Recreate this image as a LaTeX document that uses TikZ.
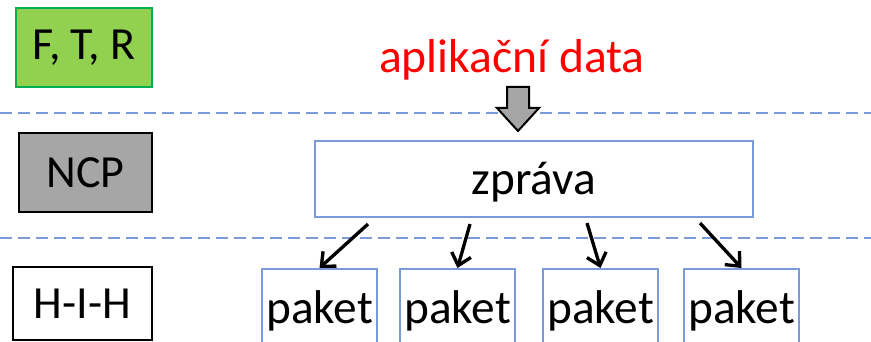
\documentclass[tikz,border=0pt]{standalone}
\usepackage{fontspec}
\setmainfont{Carlito}
\usepackage{tikz}
\usetikzlibrary{arrows.meta, calc}
\usepackage{xcolor}

\definecolor{sepblue}{RGB}{122,154,216}
\definecolor{ftrgreen}{RGB}{146,208,80}
\definecolor{ftrline}{RGB}{0,176,80}
\definecolor{ncpgray}{RGB}{166,166,166}

\tikzset{
  layerbox/.style={draw=black, line width=1.7pt, inner sep=0pt, font=\fontsize{34.5}{40}\selectfont},
  sepline/.style={draw=sepblue, line width=1.5pt, dash pattern=on 9pt off 4.5pt},
  msgbox/.style={draw=sepblue, line width=1.6pt, inner sep=0pt, text height=30pt, text depth=6pt,
    font=\fontsize{35.5}{40}\selectfont},
  pktbox/.style={draw=sepblue, line width=1.6pt, inner sep=0pt, anchor=north, minimum width=86.25pt,
    text height=41pt, text depth=40pt, font=\fontsize{35.5}{40}\selectfont},
  pktarrow/.style={line width=2.5pt, -{Straight Barb[length=8.5pt,width=15pt]}}
}

\begin{document}
\begin{tikzpicture}[x=0.75pt,y=0.75pt,yscale=-1,xscale=1]
\useasboundingbox (0,0) rectangle (871,342);
\clip (0,0) rectangle (871,342);

%Straight Lines [layer borders]
\draw[sepline] (0,113) -- (871,113);
\draw[sepline] (0,238) -- (871,238);

%Shape: Rectangle [layers]
\node[layerbox, draw=ftrline, fill=ftrgreen, minimum width=102pt, minimum height=59.25pt] (ftr) at (84,47.5) {F, T, R};
\node[layerbox, fill=ncpgray, minimum width=99.75pt, minimum height=59.25pt] (ncp) at (85.5,172.5) {NCP};
\node[layerbox, fill=white, minimum width=104.25pt, minimum height=54.75pt] (hih) at (82.5,303.5) {H-I-H};

% Text Node
\node[anchor=base, text=red, inner sep=0pt, font=\fontsize{35.7}{40}\selectfont] (appdata) at (512,73) {aplikační data};

%Shape: Down Arrow
\coordinate (down) at (518,87);
\draw[fill=ncpgray, line width=1.5pt, line join=miter] (down) ++(-11,0) -- ++(22,0) -- ++(0,21) -- ++(10,0) -- (518,131) -- (497,108) -- ++(10,0) -- cycle;

%Shape: Rectangle [message]
\node[msgbox, minimum width=328.5pt, minimum height=57pt] (msg) at (534,179) {zpráva};

%Shape: Rectangle [packets]
\node[pktbox] (p1) at (319.5,268) {paket};
\node[pktbox] (p2) at (457.5,268) {paket};
\node[pktbox] (p3) at (600.5,268) {paket};
\node[pktbox] (p4) at (741.5,268) {paket};

%Straight Lines [split]
\draw[pktarrow] ($(msg.south)+(-166,6)$) -- (p1.north);
\draw[pktarrow] ($(msg.south)+(-64,6)$) -- (p2.north);
\draw[pktarrow] ($(msg.south)+(53,5)$) -- (p3.north);
\draw[pktarrow] ($(msg.south)+(166,5)$) -- (p4.north);

\end{tikzpicture}
\end{document}
